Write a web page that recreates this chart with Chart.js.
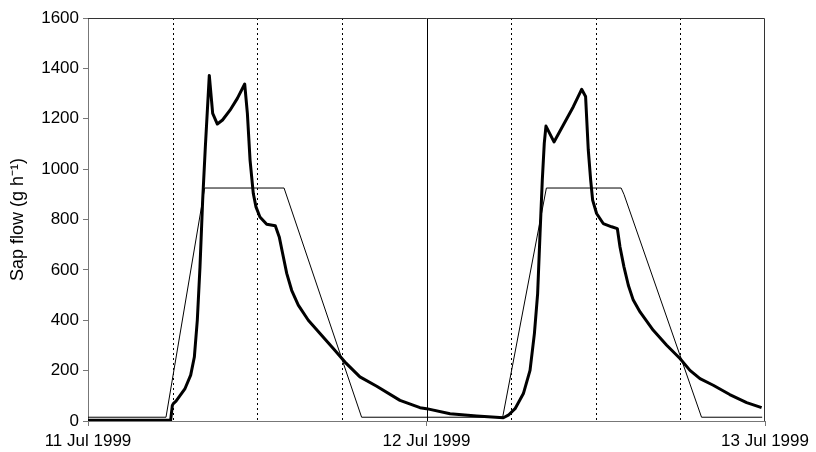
<!DOCTYPE html>
<html>
<head>
<meta charset="utf-8">
<script src="https://cdn.jsdelivr.net/npm/chart.js@4/dist/chart.umd.min.js"></script>
<style>
  html, body { margin: 0; padding: 0; background: #fff; }
  #wrap { width: 816px; height: 452px; }
</style>
</head>
<body>
<div id="wrap"><canvas id="sap-flow"></canvas></div>
<script>
// hours since 11 Jul 1999 00:00
const tickHours = [0, 24, 48];
const tickLabels = ['11 Jul 1999', '12 Jul 1999', '13 Jul 1999'];
const yTicks = [0, 200, 400, 600, 800, 1000, 1200, 1400, 1600];

const dottedHours = [6, 12, 18, 30, 36, 42];
const midnightHours = [24];

// measured sap flow (thick line)
const measuredHours = [0, 5.86, 5.98, 6.05, 6.24, 6.88, 7.28, 7.54, 7.75, 7.94, 8.13, 8.32, 8.6, 8.84, 9.17, 9.54,
    10.07, 10.59, 11.11, 11.3, 11.49, 11.72, 11.91, 12.19, 12.67, 13.28, 13.56, 13.8, 14.09, 14.44, 14.91,
    15.62, 16.45, 17.39, 18.22, 19.28, 20.47, 22.12, 23.54, 24, 25.67, 27.56, 29.45, 29.8, 30.28, 30.87,
    31.34, 31.65, 31.88, 32.05, 32.21, 32.35, 32.47, 33.04, 33.7, 34.41, 35.0, 35.28, 35.47, 35.64, 35.78,
    36.06, 36.53, 37.13, 37.53, 37.72, 38.0, 38.31, 38.66, 39.14, 40.08, 41.03, 41.97, 42.68, 43.39, 44.33,
    45.5, 46.7, 47.76];
const measuredFlow = [3, 3, 62, 69, 79, 129, 182, 254, 400, 612, 877, 1089, 1372, 1221, 1179, 1195,
    1234, 1281, 1338, 1221, 1036, 903, 850, 810, 781, 775, 731, 665, 586, 519, 460,
    400, 347, 288, 234, 175, 138, 82, 53, 49, 29, 20, 13, 23, 49, 109,
    201, 347, 506, 744, 956, 1102, 1171, 1108, 1175, 1248, 1317, 1288, 1076, 956, 877,
    824, 784, 771, 764, 691, 612, 539, 480, 433, 360, 301, 248, 201, 168, 142,
    105, 73, 53];

// modelled sap flow (thin line)
const modelHours = [0, 5.53, 8.27, 13.9, 19.4, 29.4, 32.5, 37.8, 38.0, 43.5, 47.8];
const modelFlow = [15, 15, 925, 925, 15, 15, 925, 925, 900, 15, 15];

const toPoints = (xs, ys) => xs.map((x, i) => ({ x: x, y: ys[i] }));

const frameAndGuides = {
    id: 'frameAndGuides',
    beforeDatasetsDraw: (chart) => {
        const ctx = chart.ctx;
        const area = chart.chartArea;
        const xs = chart.scales.x;
        ctx.save();
        ctx.strokeStyle = '#000';
        ctx.lineWidth = 1;
        ctx.setLineDash([2, 3]);
        dottedHours.forEach(h => {
            const px = Math.round(xs.getPixelForValue(h)) + 0.5;
            ctx.beginPath();
            ctx.moveTo(px, area.top);
            ctx.lineTo(px, area.bottom);
            ctx.stroke();
        });
        ctx.setLineDash([]);
        midnightHours.forEach(h => {
            const px = Math.round(xs.getPixelForValue(h)) + 0.5;
            ctx.beginPath();
            ctx.moveTo(px, area.top);
            ctx.lineTo(px, area.bottom);
            ctx.stroke();
        });
        // top and right frame
        ctx.strokeStyle = '#333';
        ctx.beginPath();
        ctx.moveTo(area.left, area.top + 0.5);
        ctx.lineTo(area.right - 0.5, area.top + 0.5);
        ctx.lineTo(area.right - 0.5, area.bottom);
        ctx.stroke();
        ctx.restore();
    }
};

const font = { family: '"Liberation Sans", Arial, sans-serif', size: 17 };

new Chart(document.getElementById('sap-flow'), {
    type: 'line',
    data: {
        datasets: [
            {
                label: 'Measured',
                data: toPoints(measuredHours, measuredFlow),
                borderColor: '#000',
                borderWidth: 3,
                pointRadius: 0,
                tension: 0,
                borderJoinStyle: 'round'
            },
            {
                label: 'Model',
                data: toPoints(modelHours, modelFlow),
                borderColor: '#000',
                borderWidth: 1,
                pointRadius: 0,
                tension: 0
            }
        ]
    },
    options: {
        responsive: true,
        maintainAspectRatio: false,
        animation: false,
        layout: { padding: { top: 18, right: 51, left: 0, bottom: 0 } },
        plugins: {
            legend: { display: false },
            tooltip: { enabled: false }
        },
        scales: {
            x: {
                type: 'linear',
                min: 0,
                max: 48,
                afterBuildTicks: (scale) => {
                    scale.ticks = tickHours.map(v => ({ value: v }));
                },
                afterFit: (scale) => { scale.height = 31; },
                grid: { drawOnChartArea: false, drawTicks: true, tickLength: 5, color: '#777' },
                border: { color: '#777', width: 1 },
                ticks: {
                    color: '#000',
                    font: font,
                    padding: 5,
                    maxRotation: 0,
                    autoSkip: false,
                    callback: (value) => tickLabels[tickHours.indexOf(value)]
                }
            },
            y: {
                min: 0,
                max: 1600,
                afterBuildTicks: (scale) => {
                    scale.ticks = yTicks.map(v => ({ value: v }));
                },
                afterFit: (scale) => { scale.width = 88; },
                grid: { drawOnChartArea: false, drawTicks: true, tickLength: 5, color: '#777' },
                border: { color: '#777', width: 1 },
                title: {
                    display: true,
                    text: 'Sap flow (g h\u207B\u00B9)',
                    color: '#000',
                    font: { family: font.family, size: 18 },
                    padding: { top: 7, bottom: 0 }
                },
                ticks: {
                    color: '#000',
                    font: font,
                    padding: 4,
                    callback: (value) => String(value)
                }
            }
        }
    },
    plugins: [frameAndGuides]
});
</script>
</body>
</html>
